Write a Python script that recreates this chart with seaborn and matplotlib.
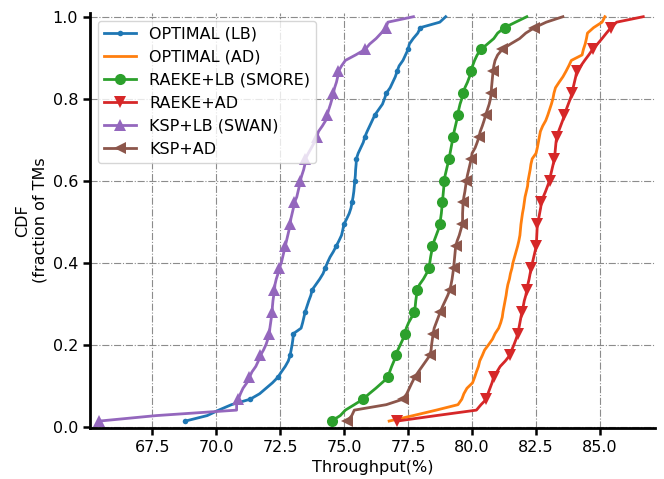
import numpy as np
import pandas as pd
import matplotlib
matplotlib.use("Agg")
import matplotlib.pyplot as plt
import seaborn as sns

labels = ["OPTIMAL (LB)", "OPTIMAL (AD)", "RAEKE+LB (SMORE)", "RAEKE+AD",
          "KSP+LB (SWAN)", "KSP+AD"]

optimal_lb = [68.8, 69.65, 70.1, 70.6, 71.33, 71.7, 71.95, 72.2, 72.41, 72.55,
              72.7, 72.82, 72.89, 72.93, 72.97, 73.0, 73.02, 73.32, 73.38, 73.43,
              73.48, 73.55, 73.62, 73.7, 73.75, 73.9, 74.05, 74.18, 74.26, 74.35,
              74.45, 74.58, 74.69, 74.8, 74.9, 74.95, 74.99, 75.1, 75.2, 75.27,
              75.31, 75.35, 75.38, 75.4, 75.42, 75.44, 75.45, 75.47, 75.48, 75.55,
              75.65, 75.75, 75.81, 75.9, 76.0, 76.1, 76.2, 76.35, 76.5, 76.58,
              76.65, 76.8, 76.9, 77.0, 77.07, 77.15, 77.3, 77.4, 77.5, 77.55,
              77.7, 77.88, 77.98, 78.74, 78.97]

optimal_ad = [76.76, 77.7, 78.6, 79.45, 79.6, 79.68, 79.8, 80.02, 80.1, 80.17,
              80.25, 80.3, 80.4, 80.49, 80.65, 80.8, 80.9, 81.04, 81.12, 81.18,
              81.21, 81.25, 81.29, 81.33, 81.36, 81.4, 81.46, 81.5, 81.56, 81.6,
              81.66, 81.72, 81.78, 81.83, 81.87, 81.89, 81.91, 81.94, 81.97, 82.01,
              82.04, 82.07, 82.12, 82.17, 82.19, 82.23, 82.27, 82.3, 82.35, 82.5,
              82.55, 82.59, 82.63, 82.67, 82.76, 82.88, 82.96, 83.03, 83.1, 83.16,
              83.2, 83.26, 83.4, 83.55, 83.67, 83.78, 83.88, 84.3, 84.35, 84.42,
              84.47, 84.51, 84.75, 85.08, 85.19]

raeke_lb = [74.51, 74.85, 75.05, 75.4, 75.74, 75.98, 76.24, 76.48, 76.72, 76.78,
            76.86, 76.95, 77.02, 77.1, 77.2, 77.3, 77.37, 77.43, 77.52, 77.64,
            77.73, 77.78, 77.8, 77.83, 77.85, 77.95, 78.1, 78.22, 78.31, 78.35,
            78.38, 78.42, 78.45, 78.52, 78.6, 78.68, 78.74, 78.77, 78.8, 78.82,
            78.84, 78.86, 78.88, 78.9, 78.91, 78.95, 79.0, 79.05, 79.1, 79.14,
            79.18, 79.22, 79.26, 79.3, 79.35, 79.4, 79.44, 79.48, 79.53, 79.6,
            79.65, 79.72, 79.82, 79.9, 79.97, 80.02, 80.1, 80.2, 80.35, 80.6,
            80.85, 81.0, 81.27, 81.7, 82.14]

raeke_ad = [77.07, 78.6, 80.17, 80.35, 80.56, 80.62, 80.7, 80.78, 80.84, 80.97,
            81.1, 81.3, 81.47, 81.55, 81.64, 81.72, 81.79, 81.83, 81.87, 81.91,
            81.95, 82.0, 82.04, 82.1, 82.14, 82.18, 82.23, 82.27, 82.31, 82.36,
            82.41, 82.46, 82.51, 82.52, 82.53, 82.54, 82.55, 82.6, 82.64, 82.68,
            82.71, 82.78, 82.87, 82.95, 83.03, 83.07, 83.12, 83.17, 83.22, 83.24,
            83.26, 83.28, 83.31, 83.38, 83.46, 83.54, 83.61, 83.68, 83.76, 83.84,
            83.91, 83.95, 84.0, 84.05, 84.09, 84.25, 84.4, 84.56, 84.71, 84.9,
            85.08, 85.25, 85.43, 85.65, 86.69]

ksp_lb = [65.44, 67.66, 70.8, 70.8, 70.87, 70.95, 71.05, 71.2, 71.3, 71.4,
          71.55, 71.65, 71.73, 71.85, 71.95, 72.02, 72.08, 72.1, 72.13, 72.16,
          72.19, 72.2, 72.22, 72.25, 72.28, 72.3, 72.35, 72.42, 72.47, 72.55,
          72.6, 72.65, 72.7, 72.75, 72.8, 72.85, 72.89, 72.92, 72.97, 73.02,
          73.06, 73.15, 73.2, 73.25, 73.29, 73.35, 73.42, 73.47, 73.49, 73.6,
          73.72, 73.84, 73.93, 74.0, 74.15, 74.28, 74.34, 74.4, 74.47, 74.53,
          74.58, 74.63, 74.7, 74.75, 74.78, 74.9, 75.05, 75.45, 75.82, 76.0,
          76.25, 76.45, 76.64, 76.71, 77.71]

ksp_ad = [75.13, 75.3, 75.4, 76.65, 77.3, 77.45, 77.55, 77.65, 77.76, 77.9,
          78.05, 78.2, 78.35, 78.4, 78.42, 78.45, 78.48, 78.52, 78.6, 78.68,
          78.76, 78.85, 78.95, 79.05, 79.13, 79.18, 79.22, 79.25, 79.28, 79.3,
          79.32, 79.34, 79.36, 79.42, 79.5, 79.56, 79.62, 79.63, 79.63, 79.64,
          79.65, 79.68, 79.72, 79.75, 79.78, 79.82, 79.87, 79.92, 79.97, 80.0,
          80.12, 80.2, 80.27, 80.32, 80.4, 80.47, 80.53, 80.6, 80.67, 80.72,
          80.75, 80.76, 80.78, 80.8, 80.82, 80.85, 80.9, 81.0, 81.18, 81.5,
          81.86, 82.1, 82.44, 82.9, 83.55]

x_ticks = [67.5, 70.0, 72.5, 75.0, 77.5, 80.0, 82.5, 85.0]
y_ticks = [0.0, 0.2, 0.4, 0.6, 0.8, 1.0]

series = [optimal_lb, optimal_ad, raeke_lb, raeke_ad, ksp_lb, ksp_ad]
markers = [".", None, "o", "v", "^", "<"]
msizes = [8, 0, 8, 9, 9, 9]
colors = sns.color_palette("tab10", 6)

fig = plt.figure(figsize=(6.64, 4.79), dpi=100)
ax = fig.add_axes([0.1355, 0.107, 0.851, 0.8667])

FS = 11.5
for lab, vals, mk, ms, col in zip(labels, series, markers, msizes, colors):
    n = len(vals)
    df = pd.DataFrame({"x": vals, "cdf": np.arange(1, n + 1) / n})
    kw = dict(color=col, linewidth=2, label=lab)
    if mk is not None:
        kw.update(marker=mk, markersize=ms, markevery=4, markeredgewidth=0)
    sns.lineplot(data=df, x="x", y="cdf", ax=ax, estimator=None, sort=False, **kw)

ax.set_xlim(65.07, 87.15)
ax.set_ylim(-0.003, 1.01)
ax.set_xticks(x_ticks)
ax.set_yticks(y_ticks)
ax.set_xticklabels([f"{t:.1f}" for t in x_ticks], fontsize=FS)
ax.set_yticklabels([f"{t:.1f}" for t in y_ticks], fontsize=FS)
ax.grid(True, linestyle="-.", color="gray", linewidth=0.8, alpha=0.9)
for s in ["top", "right"]:
    ax.spines[s].set_visible(False)
for s in ["left", "bottom"]:
    ax.spines[s].set_linewidth(2)
    ax.spines[s].set_color("black")
ax.tick_params(axis="both", direction="out", length=5, width=1.8, color="black")
ax.set_xlabel("Throughput(%)", fontsize=FS)
ax.set_ylabel("CDF\n(fraction of TMs", fontsize=FS)
ax.legend(loc="upper left", fontsize=FS, frameon=True)

fig.savefig("out.png", dpi=100)
